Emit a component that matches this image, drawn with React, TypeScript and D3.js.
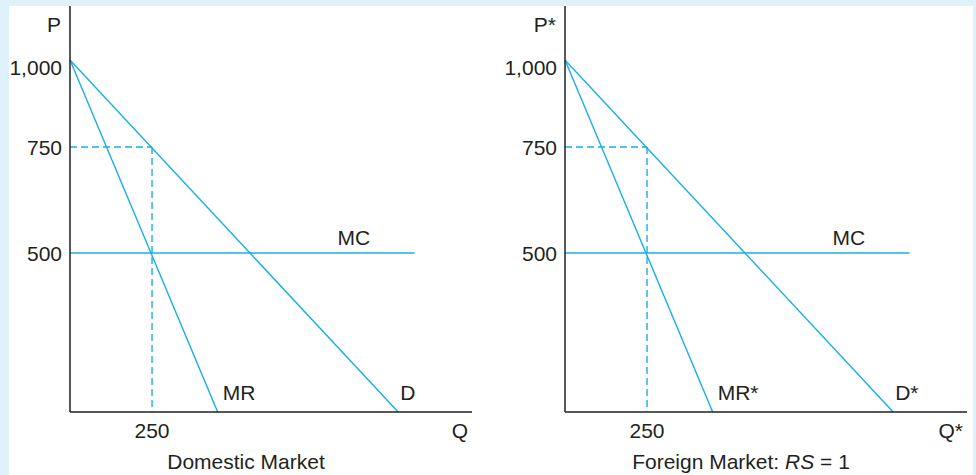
import React from "react";
import * as d3 from "d3";

// ---- data ----
const priceTicks = [1000, 750, 500];
const priceTickLabels = ["1,000", "750", "500"];
const quantityTicks = [250];
const quantityTickLabels = ["250"];
const demandPoints: [number, number][] = [[0, 1000], [1000, 0]];
const mrPoints: [number, number][] = [[0, 1000], [450, 0]];
const mcPoints: [number, number][] = [[0, 500], [1050, 500]];
const optimumQ = 250;
const optimumP = 750;
const mcLabelQ = 865;
const panelTitles = ["Domestic Market", "Foreign Market: "];
const pLabels = ["P", "P*"];
const qLabels = ["Q", "Q*"];
const mrLabels = ["MR", "MR*"];
const dLabels = ["D", "D*"];

const W = 976;
const H = 475;
const BLUE = "#1aaee6";
const INK = "#231f20";
const FONT = "'Liberation Sans', Arial, Helvetica, sans-serif";

function Panel({ idx, offset }: { idx: number; offset: number }) {
  const x0 = 70 + offset;
  const x = d3.scaleLinear().domain([0, 1225]).range([x0, x0 + 402]);
  const y = d3.scaleLinear().domain([0, 500, 750, 1000]).range([412, 253, 147, 60]);
  const line = d3
    .line<[number, number]>()
    .x((d) => x(d[0]))
    .y((d) => y(d[1]));
  const fs = 21;
  return (
    <g fontFamily={FONT} fontSize={fs} fill={INK}>
      {/* curves */}
      <path d={line(demandPoints) || ""} stroke={BLUE} strokeWidth={1.4} fill="none" />
      <path d={line(mrPoints) || ""} stroke={BLUE} strokeWidth={1.4} fill="none" />
      <path d={line(mcPoints) || ""} stroke={BLUE} strokeWidth={1.4} fill="none" />
      {/* dashed guides */}
      <line
        x1={x(0)}
        x2={x(optimumQ)}
        y1={y(optimumP)}
        y2={y(optimumP)}
        stroke={BLUE}
        strokeWidth={1.4}
        strokeDasharray="7,4"
      />
      <line
        x1={x(optimumQ)}
        x2={x(optimumQ)}
        y1={y(optimumP)}
        y2={y(0)}
        stroke={BLUE}
        strokeWidth={1.4}
        strokeDasharray="7,4"
      />
      {/* axes */}
      <line x1={x(0)} x2={x(0)} y1={6} y2={y(0)} stroke={INK} strokeWidth={1.5} />
      <line x1={x(0)} x2={x.range()[1]} y1={y(0)} y2={y(0)} stroke={INK} strokeWidth={1.5} />
      {/* tick labels */}
      {priceTicks.map((p, i) => (
        <text
          key={p}
          x={x(0) - 8}
          y={y(p) + (i === 0 ? 7 : 0)}
          textAnchor="end"
          dominantBaseline="central"
        >
          {priceTickLabels[i]}
        </text>
      ))}
      {quantityTicks.map((q, i) => (
        <text key={q} x={x(q)} y={y(0) + 26} textAnchor="middle">
          {quantityTickLabels[i]}
        </text>
      ))}
      <text x={x(0) - 9} y={32} textAnchor="end">
        {pLabels[idx]}
      </text>
      <text x={x.range()[1] - 4} y={y(0) + 26} textAnchor="end">
        {qLabels[idx]}
      </text>
      {/* curve labels */}
      <text x={x(mrPoints[1][0]) + 5} y={y(0) - 12}>
        {mrLabels[idx]}
      </text>
      <text x={x(demandPoints[1][0]) + 2} y={y(0) - 12}>
        {dLabels[idx]}
      </text>
      <text x={x(mcLabelQ)} y={y(500) - 8} textAnchor="middle">
        MC
      </text>
      {/* title */}
      <text x={x0 + 176} y={469} textAnchor="middle">
        {panelTitles[idx]}
        {idx === 1 && (
          <>
            <tspan fontStyle="italic">RS</tspan>
            <tspan> = 1</tspan>
          </>
        )}
      </text>
    </g>
  );
}

export default function App() {
  return (
    <svg
      width={W}
      height={H}
      style={{ position: "absolute", left: 0, top: 0, display: "block" }}
    >
      <rect x={0} y={0} width={W} height={H} fill="#dff1fb" />
      <rect x={9} y={6} width={964} height={H - 6} fill="#ffffff" />
      {[0, 495].map((off, i) => (
        <Panel key={i} idx={i} offset={off} />
      ))}
    </svg>
  );
}
